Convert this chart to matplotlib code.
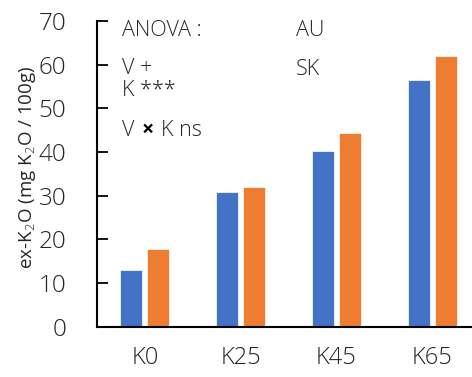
import matplotlib.pyplot as plt
import numpy as np

categories = ['K0', 'K25', 'K45', 'K65']
au = [13.0, 30.8, 40.2, 56.4]
sk = [17.9, 31.9, 44.3, 62.1]
yticks = [0, 10, 20, 30, 40, 50, 60, 70]

plt.rcParams['font.family'] = ['Open Sans', 'DejaVu Sans']
plt.rcParams['font.weight'] = 'light'
plt.rcParams['mathtext.fontset'] = 'custom'
plt.rcParams['mathtext.rm'] = 'Open Sans:light'
plt.rcParams['mathtext.it'] = 'Open Sans:light'
txt = '#262626'

fig = plt.figure(figsize=(4.72, 3.77), dpi=100)
ax = fig.add_axes([97 / 472, 1 - 326.7 / 377, 383 / 472, 305.7 / 377])

x = np.arange(len(categories))
w = 0.23
ax.bar(x - 0.14, au, width=w, color='#4472C4', edgecolor='white', linewidth=0.5)
ax.bar(x + 0.14, sk, width=w, color='#ED7D31', edgecolor='white', linewidth=0.5)

ax.set_xlim(-0.5, 3.5)
ax.set_ylim(0, 70)
ax.set_yticks(yticks)
ax.set_xticks(x)
ax.set_xticklabels(categories)
ax.tick_params(axis='y', direction='in', length=8, width=1.3, labelsize=17.5,
               labelcolor=txt, pad=22)
ax.tick_params(axis='x', length=0, labelsize=17, labelcolor=txt, pad=14)
for s in ['top', 'right']:
    ax.spines[s].set_visible(False)
for s in ['left', 'bottom']:
    ax.spines[s].set_linewidth(1.5)
    ax.spines[s].set_color('black')
ax.set_ylabel('ex-K$_2$O (mg K$_2$O / 100g)', fontsize=13.5, color=txt)
ax.yaxis.set_label_coords(-0.155, 0.52)

# ANOVA notes and series names written as text
fs = 15.5
ax.text(-0.24, 67.9, 'ANOVA :', fontsize=fs, color=txt, va='center')
ax.text(-0.24, 59.2, 'V +', fontsize=fs, color=txt, va='center')
ax.text(-0.24, 54.2, 'K ***', fontsize=fs, color=txt, va='center')
ax.text(-0.24, 45.0, 'V', fontsize=fs, color=txt, va='center')
ax.text(-0.03, 45.0, '\u00d7', fontsize=fs, color='black', fontweight='bold', va='center')
ax.text(0.17, 45.0, 'K ns', fontsize=fs, color=txt, va='center')
ax.text(1.58, 67.9, 'AU', fontsize=fs, color=txt, va='center')
ax.text(1.58, 58.8, 'SK', fontsize=fs, color=txt, va='center')

fig.savefig('out.png', dpi=100)
